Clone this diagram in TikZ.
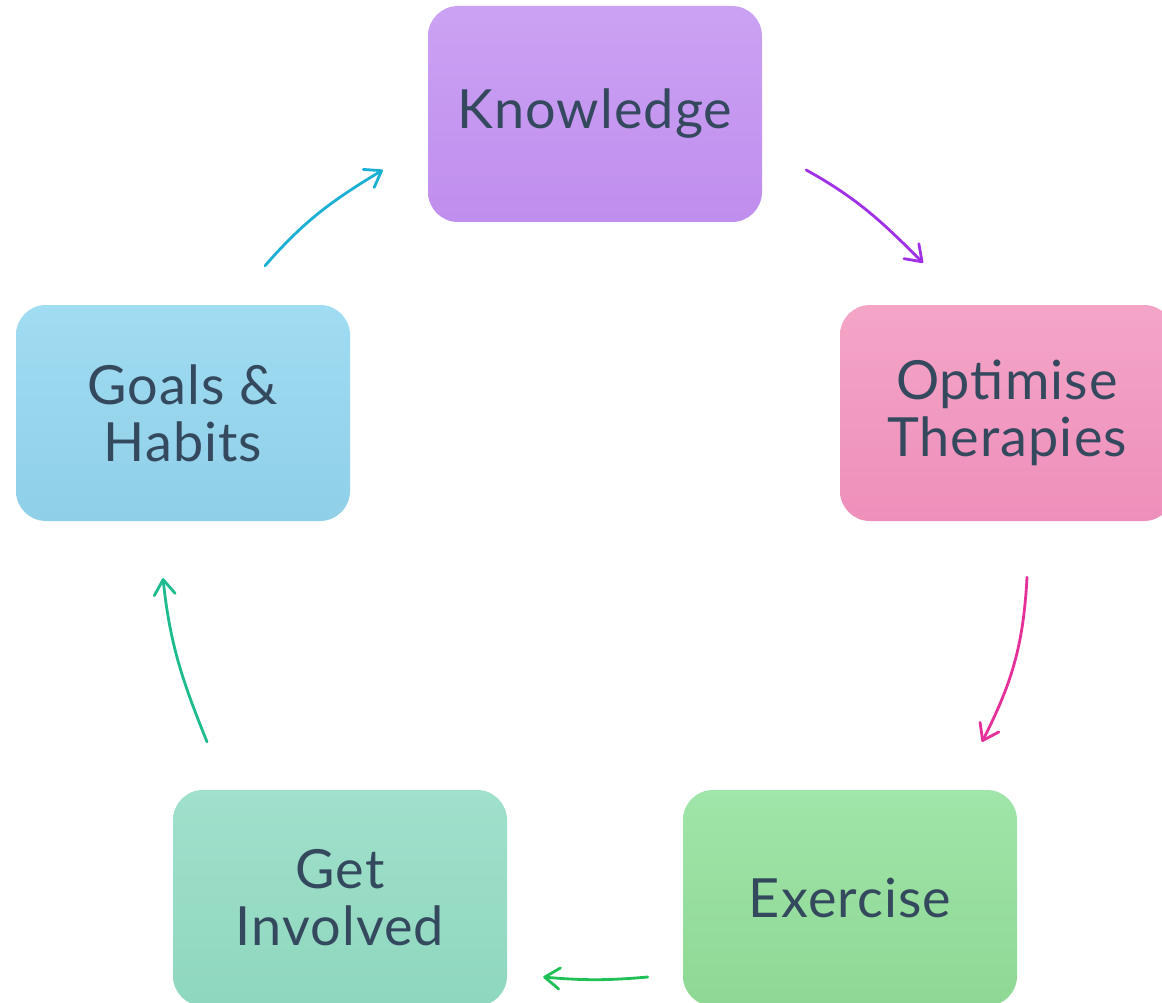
\documentclass[tikz,border=0pt]{standalone}
\usepackage{fontspec}
\setmainfont{Lato}[LetterSpace=2]
\usetikzlibrary{arrows.meta}
\definecolor{ink}{HTML}{34495E}
\definecolor{knowtop}{HTML}{CBA2F3} \definecolor{knowbot}{HTML}{C08EEE}
\definecolor{opttop}{HTML}{F4A5C7}  \definecolor{optbot}{HTML}{EE8FBA}
\definecolor{exetop}{HTML}{A0E5A9}  \definecolor{exebot}{HTML}{8ED894}
\definecolor{invtop}{HTML}{A0E0CC}  \definecolor{invbot}{HTML}{8FD7BE}
\definecolor{goaltop}{HTML}{A0DCF2} \definecolor{goalbot}{HTML}{8FCFE8}
\definecolor{purp}{HTML}{A030E6}
\definecolor{mag}{HTML}{E5309A}
\definecolor{grn}{HTML}{1FC157}
\definecolor{teal}{HTML}{1DBB8E}
\definecolor{cyn}{HTML}{1BAFD3}
\begin{document}
\begin{tikzpicture}[x=1pt, y=1pt,
    box/.style={rounded corners=30pt, minimum width=334pt, minimum height=216pt,
      inner sep=0pt, text=ink, align=center, font=\fontsize{54}{57}\selectfont},
    link/.style={line width=2.8pt, line cap=round,
      -{Straight Barb[length=15pt, width=21pt, line cap=round, line join=round]}}]
    \useasboundingbox (0,0) rectangle (1162,-1003);
    \node[box, top color=knowtop, bottom color=knowbot] (k) at (595,-114) {Knowledge};
    \node[box, top color=opttop, bottom color=optbot] (o) at (1007,-413) {Optimise\\Therapies};
    \node[box, top color=exetop, bottom color=exebot] (e) at (850,-898) {Exercise};
    \node[box, top color=invtop, bottom color=invbot] (h) at (340,-898) {Get\\Involved};
    \node[box, top color=goaltop, bottom color=goalbot] (g) at (183,-413) {Goals \&\\Habits};
    % cycle arrows
    \draw[link, purp] ([shift={(44,-56)}]k.east) to[out=-29, in=135] ([shift={(-84,42)}]o.north);
    \draw[link, mag] ([shift={(20,-56)}]o.south) to[out=-93, in=63] ([shift={(132,48)}]e.north);
    \draw[link, grn] ([shift={(-35,-79)}]e.west) to[out=185, in=-5] ([shift={(36,-79)}]h.east);
    \draw[link, teal] ([shift={(-133,48)}]h.north) to[out=112, in=-84] ([shift={(-20,-57)}]g.south);
    \draw[link, cyn] ([shift={(82,39)}]g.north) to[out=49, in=-149] ([shift={(-45,-56)}]k.west);
\end{tikzpicture}
\end{document}
